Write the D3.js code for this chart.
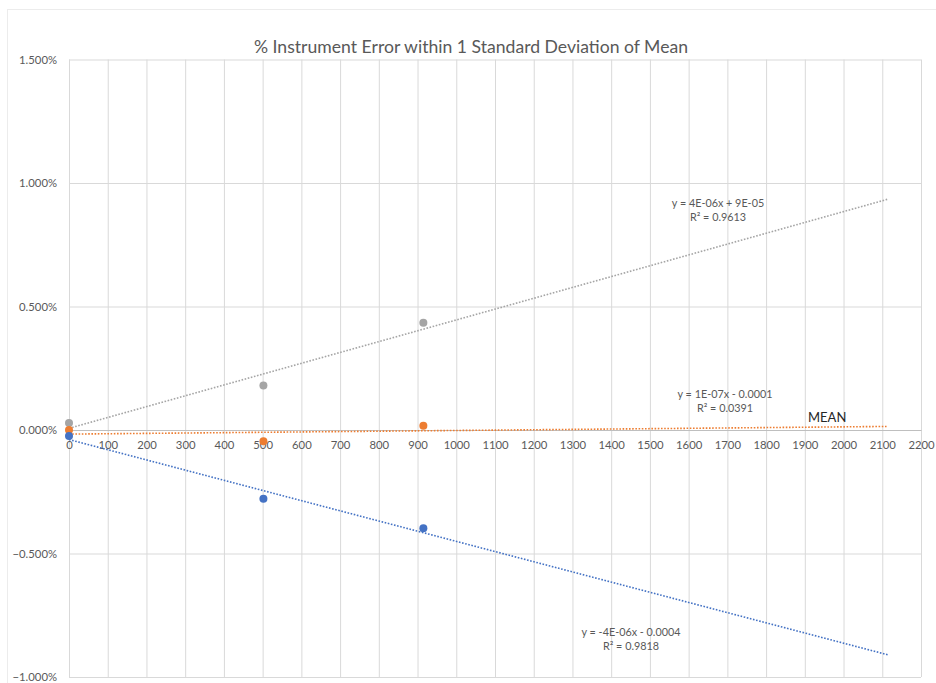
<!DOCTYPE html>
<html>
<head>
<meta charset="utf-8">
<script src="https://cdn.jsdelivr.net/npm/d3@7"></script>
<style>
  html, body { margin: 0; padding: 0; background: #ffffff; }
  svg { display: block; font-family: Lato, "Open Sans", sans-serif; }
</style>
</head>
<body>
<svg id="chart" width="936" height="683"></svg>
<script>
// Instrument readings (x) and % error of each band (fractions)
const xValues = [0, 502, 915];
const upperBand = [0.00028, 0.00180, 0.00434];   // +1 SD (grey)
const meanBand = [0.00000, -0.00046, 0.00017];   // mean (orange)
const lowerBand = [-0.00024, -0.00278, -0.00398]; // -1 SD (blue)

const xTicks = d3.range(0, 2201, 100);
const yTicks = [-0.01, -0.005, 0, 0.005, 0.01, 0.015];

const trendEnd = 2115; // trendlines projected forward to here

const equationLabels = [
  { name: "upper", lines: ["y = 4E-06x + 9E-05", "R\u00B2 = 0.9613"] },
  { name: "mean", lines: ["y = 1E-07x - 0.0001", "R\u00B2 = 0.0391"] },
  { name: "lower", lines: ["y = -4E-06x - 0.0004", "R\u00B2 = 0.9818"] }
];

const series = [
  { name: "upper", values: upperBand, color: "#a5a5a5" },
  { name: "mean", values: meanBand, color: "#ed7d31" },
  { name: "lower", values: lowerBand, color: "#4472c4" }
];

const svg = d3.select("#chart");
const plot = { left: 69, right: 921, top: 59.5, bottom: 677 };

const x = d3.scaleLinear().domain([0, 2200]).range([plot.left, plot.right]);
const y = d3.scaleLinear().domain([-0.01, 0.015]).range([plot.bottom, plot.top]);

// chart frame
svg.append("rect")
  .attr("x", 7.5).attr("y", 9.5).attr("width", 940).attr("height", 690)
  .attr("fill", "none").attr("stroke", "#ececec").attr("stroke-width", 1);

// title
svg.append("text")
  .attr("x", 471).attr("y", 53)
  .attr("text-anchor", "middle")
  .attr("font-size", 17.6)
  .attr("fill", "#595959")
  .text("% Instrument Error within 1 Standard Deviation of Mean");

// vertical gridlines
svg.append("g")
  .attr("transform", `translate(0,${plot.bottom})`)
  .call(d3.axisBottom(x).tickValues(xTicks).tickSize(-(plot.bottom - plot.top)).tickFormat(""))
  .call(g => g.select(".domain").remove())
  .call(g => g.selectAll("line").attr("stroke", "#d9d9d9").attr("stroke-width", 1));

// horizontal gridlines + y labels
svg.append("g")
  .attr("transform", `translate(${plot.left},0)`)
  .call(d3.axisLeft(y).tickValues(yTicks).tickSize(-(plot.right - plot.left)).tickPadding(12)
    .tickFormat(d3.format(".3%")))
  .call(g => g.select(".domain").remove())
  .call(g => g.selectAll("line").attr("stroke", "#d9d9d9").attr("stroke-width", 1))
  .call(g => g.selectAll("text")
    .attr("font-family", "Lato, 'Open Sans', sans-serif")
    .attr("font-size", 11.3).attr("fill", "#595959"));

// horizontal axis across zero
svg.append("g")
  .attr("transform", `translate(0,${y(0)})`)
  .call(d3.axisBottom(x).tickValues(xTicks).tickSize(0).tickPadding(11).tickFormat(d3.format("d")))
  .call(g => g.select(".domain").attr("stroke", "#bfbfbf"))
  .call(g => g.selectAll("text")
    .attr("font-family", "Lato, 'Open Sans', sans-serif")
    .attr("font-size", 11.3).attr("fill", "#595959"));

// least-squares trendline for each series
function fit(xs, ys) {
  const mx = d3.mean(xs), my = d3.mean(ys);
  const sxy = d3.sum(xs, (v, i) => (v - mx) * (ys[i] - my));
  const sxx = d3.sum(xs, v => (v - mx) * (v - mx));
  const slope = sxy / sxx;
  return { slope, intercept: my - slope * mx };
}

const line = d3.line().x(d => x(d[0])).y(d => y(d[1]));

series.forEach(s => {
  const f = fit(xValues, s.values);
  const pts = [[0, f.intercept], [trendEnd, f.intercept + f.slope * trendEnd]];
  svg.append("path")
    .datum(pts)
    .attr("d", line)
    .attr("fill", "none")
    .attr("stroke", s.color)
    .attr("stroke-width", 1.6)
    .attr("stroke-dasharray", "1.6,1.6");
});

// data points
series.forEach(s => {
  svg.append("g").selectAll("circle")
    .data(xValues.map((v, i) => [v, s.values[i]]))
    .join("circle")
    .attr("cx", d => x(d[0]))
    .attr("cy", d => y(d[1]))
    .attr("r", 4)
    .attr("fill", s.color);
});

// trendline equations
const labelPos = { upper: [718, 207], mean: [725, 398], lower: [631, 636] };
equationLabels.forEach(lbl => {
  const [lx, ly] = labelPos[lbl.name];
  const t = svg.append("text")
    .attr("font-size", 10.8).attr("fill", "#595959")
    .attr("text-anchor", "middle");
  lbl.lines.forEach((ln, i) => {
    t.append("tspan").attr("x", lx).attr("y", ly + i * 14).text(ln);
  });
});

// series marker text
svg.append("text")
  .attr("x", 808).attr("y", 422)
  .attr("font-size", 13).attr("fill", "#262626")
  .text("MEAN");
</script>
</body>
</html>
